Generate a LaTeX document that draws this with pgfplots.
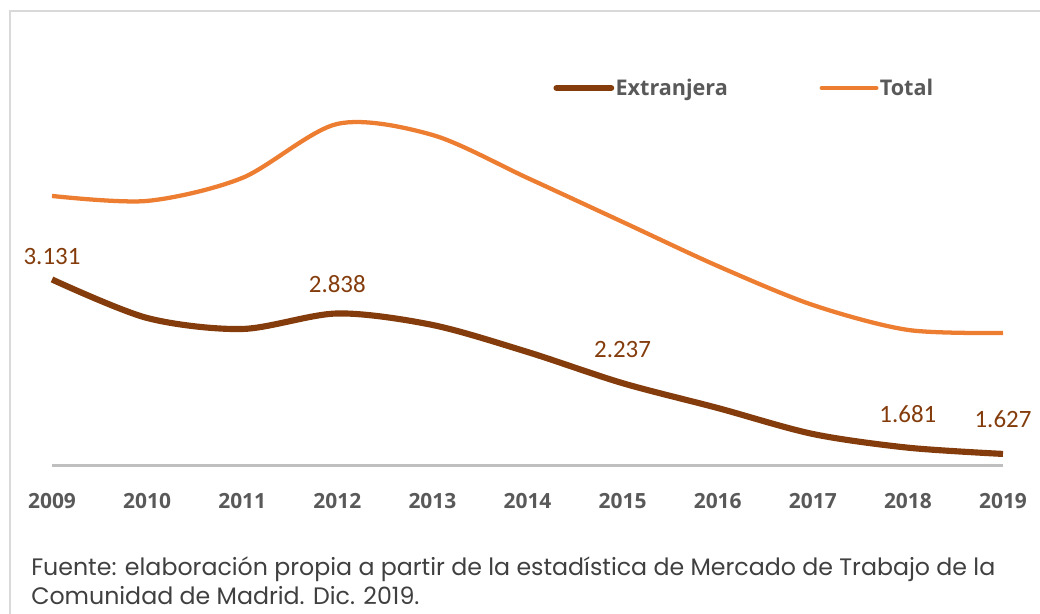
\documentclass[border=0pt]{standalone}
\usepackage{pgfplots}
\usepackage{pgfplotstable}
\pgfplotsset{compat=1.18}
\usepackage{fontspec}
\setmainfont{Open Sans}
\newfontfamily\lblfont{Carlito}
\newfontfamily\footfont{Poppins}
\definecolor{ext}{HTML}{843C0C}
\definecolor{tot}{HTML}{ED7D31}
\definecolor{tickc}{HTML}{595959}
\definecolor{framec}{HTML}{D9D9D9}
\definecolor{basec}{HTML}{BFBFBF}
\definecolor{footc}{HTML}{404040}

\pgfplotstableread{
x y
2009 3.131
2010 2.799
2011 2.704
2012 2.838
2013 2.739
2014 2.506
2015 2.237
2016 2.023
2017 1.799
2018 1.681
2019 1.627
}\exttab

\pgfplotstableread{
x y
2009 3.851
2010 3.808
2011 4.006
2012 4.472
2013 4.377
2014 4.006
2015 3.627
2016 3.247
2017 2.911
2018 2.696
2019 2.670
}\tottab

\pgfplotstableread{
x y lab off
2009 3.131 3.131 11.4
2012 2.838 2.838 15.9
2015 2.237 2.237 19.1
2018 1.681 1.681 19.0
2019 1.627 1.627 20.0
}\labtab

\newlength\lw
\begin{document}
\settowidth\lw{\footfont\fontsize{15}{15}\selectfont Fuente: elaboración propia a partir de la estadística de Mercado de Trabajo de la}%
\pgfmathsetmacro\fs{723/\lw}%
\begin{tikzpicture}
\path[use as bounding box] (0,0) rectangle (780pt,460.5pt);
\draw[framec, line width=1.2pt] (7.5pt,-2pt) -- (7.5pt,452.25pt) -- (782pt,452.25pt);
\begin{axis}[
  at={(39pt,111pt)}, anchor=south west,
  scale only axis, width=713.25pt, height=304.5pt,
  xmin=2009, xmax=2019, ymin=1.523, ymax=5.023,
  clip=false,
  axis y line=none,
  axis x line*=bottom,
  x axis line style={basec, line width=2.25pt, -},
  xtick={2009,2010,2011,2012,2013,2014,2015,2016,2017,2018,2019},
  xticklabels={2009,2010,2011,2012,2013,2014,2015,2016,2017,2018,2019},
  major tick length=0pt,
  xticklabel style={anchor=base, yshift=-32.25pt, inner sep=0pt, text=tickc, font=\bfseries\fontsize{15.7}{15.7}\selectfont},
  legend columns=2,
  legend style={draw=none, fill=none, at={(0.527,0.931)}, anchor=west, inner sep=0pt,
    font=\bfseries\fontsize{16.2}{16.2}\selectfont, text=tickc,
    nodes={inner xsep=1pt},
    /tikz/every even column/.append style={column sep=67.75pt}},
  legend image code/.code={\draw[#1, line cap=round] (0pt,0pt) -- (41pt,0pt);},
]
\addplot[ext, line width=4.6pt, smooth] table[x=x,y=y] {\exttab};
\addlegendentry{Extranjera}
\addplot[tot, line width=3.2pt, smooth] table[x=x,y=y] {\tottab};
\addlegendentry{Total}
\addplot[draw=none, mark=none, forget plot, nodes near coords, point meta=explicit symbolic,
  visualization depends on={\thisrow{off} \as \off},
  nodes near coords style={anchor=base, yshift={\off*1pt}, inner sep=0pt, text=ext,
    font=\lblfont\fontsize{18.7}{18.7}\selectfont}]
  table[x=x,y=y,meta=lab] {\labtab};
\end{axis}
\node[anchor=base west, inner sep=0pt, text=footc] at (23.25pt,28.5pt) {\scalebox{\fs}[1.19]{\footfont\fontsize{15}{15}\selectfont Fuente: elaboración propia a partir de la estadística de Mercado de Trabajo de la}};
\node[anchor=base west, inner sep=0pt, text=footc] at (23.25pt,6.75pt) {\scalebox{\fs}[1.19]{\footfont\fontsize{15}{15}\selectfont Comunidad de Madrid. Dic. 2019.}};
\end{tikzpicture}
\end{document}
